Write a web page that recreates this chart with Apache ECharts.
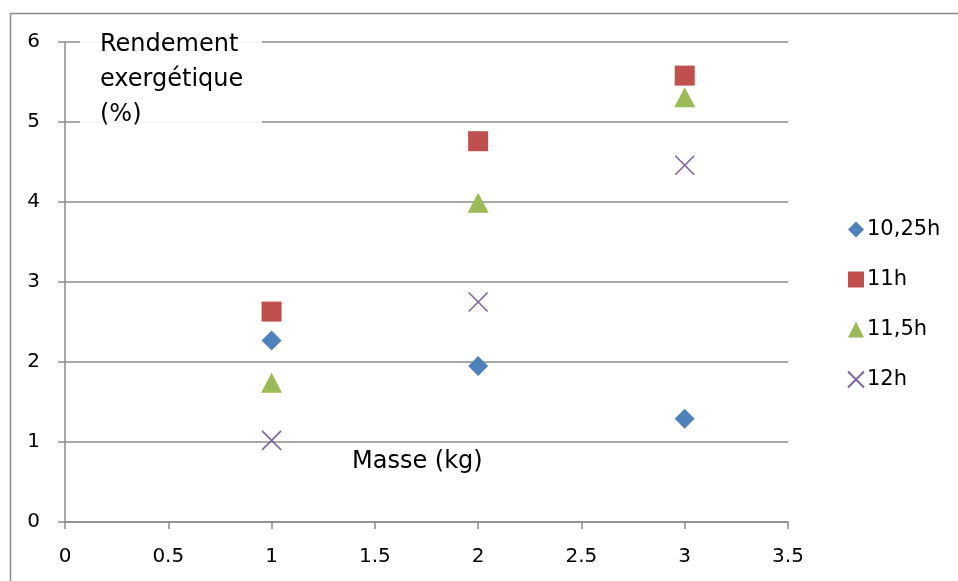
<!DOCTYPE html>
<html>
<head>
<meta charset="utf-8">
<script src="https://cdn.jsdelivr.net/npm/echarts@6/dist/echarts.min.js"></script>
<style>html,body{margin:0;padding:0;background:#fff;}#c{width:958px;height:581px;}</style>
</head>
<body>
<div id="c"></div>
<script>
const seriesNames = ['10,25h', '11h', '11,5h', '12h'];
const masses = [1, 2, 3];
const s1025 = [2.27, 1.95, 1.29];
const s11 = [2.63, 4.76, 5.58];
const s115 = [1.74, 3.99, 5.31];
const s12 = [1.02, 2.75, 4.46];
const xTicks = [0, 0.5, 1, 1.5, 2, 2.5, 3, 3.5];
const yTicks = [0, 1, 2, 3, 4, 5, 6];

const FONT = '"DejaVu Sans", sans-serif';
const GRAY = '#8c8c8c';
const crossPath = 'path://M0,0L10,10M10,0L0,10';

function pts(vals) { return masses.map((m, i) => [m, vals[i]]); }

const chart = echarts.init(document.getElementById('c'));
chart.setOption({
  animation: false,
  backgroundColor: '#fff',
  textStyle: { fontFamily: FONT },
  grid: { left: 65, top: 42, width: 723, height: 480, containLabel: false },
  xAxis: {
    type: 'value', min: xTicks[0], max: xTicks[xTicks.length - 1], interval: 0.5,
    axisLine: { show: true, lineStyle: { color: GRAY, width: 1.5 } },
    axisTick: { show: true, inside: false, length: 7, lineStyle: { color: GRAY, width: 1.5 } },
    splitLine: { show: false },
    axisLabel: { color: '#000', fontSize: 20, fontFamily: FONT, margin: 25 }
  },
  yAxis: {
    type: 'value', min: yTicks[0], max: yTicks[yTicks.length - 1], interval: 1,
    axisLine: { show: true, lineStyle: { color: GRAY, width: 1.5 } },
    axisTick: { show: true, inside: false, length: 7, lineStyle: { color: GRAY, width: 1.5 } },
    splitLine: { show: true, lineStyle: { color: GRAY, width: 1.5 } },
    axisLabel: { color: '#000', fontSize: 20, fontFamily: FONT, margin: 25 }
  },
  legend: {
    orient: 'vertical', left: 842, top: 214, itemGap: 29, itemWidth: 16, itemHeight: 16,
    textStyle: { fontSize: 21, color: '#000', fontFamily: FONT, padding: [0, 0, 0, -2] },
    data: seriesNames
  },
  series: [
    { name: seriesNames[0], type: 'scatter', data: pts(s1025), symbol: 'diamond', symbolSize: [20, 20],
      itemStyle: { color: '#4F81BD', opacity: 1 } },
    { name: seriesNames[1], type: 'scatter', data: pts(s11), symbol: 'rect', symbolSize: [20, 20],
      itemStyle: { color: '#C0504D', opacity: 1 } },
    { name: seriesNames[2], type: 'scatter', data: pts(s115), symbol: 'triangle', symbolSize: [21, 20],
      itemStyle: { color: '#9BBB59', opacity: 1 } },
    { name: seriesNames[3], type: 'scatter', data: pts(s12), symbol: crossPath, symbolSize: [19, 19],
      itemStyle: { color: 'rgba(0,0,0,0)', borderColor: '#8064A2', borderWidth: 1.6, opacity: 1 } }
  ],
  graphic: [
    { type: 'line', z: 100, shape: { x1: 10, y1: 13.5, x2: 958, y2: 13.5 }, style: { stroke: GRAY, lineWidth: 1.5 } },
    { type: 'line', z: 100, shape: { x1: 10.5, y1: 13, x2: 10.5, y2: 581 }, style: { stroke: GRAY, lineWidth: 1.5 } },
    { type: 'rect', z: 100, shape: { x: 80, y: 28, width: 182, height: 98 }, style: { fill: 'rgba(255,255,255,0.9)' } },
    { type: 'text', z: 101, left: 100, top: 27,
      style: { text: 'Rendement\nexergétique\n(%)', font: '24px ' + FONT, fill: '#000', lineHeight: 35 } },
    { type: 'text', z: 101, left: 352, top: 450,
      style: { text: 'Masse (kg)', font: '24px ' + FONT, fill: '#000' } }
  ]
});
</script>
</body>
</html>
